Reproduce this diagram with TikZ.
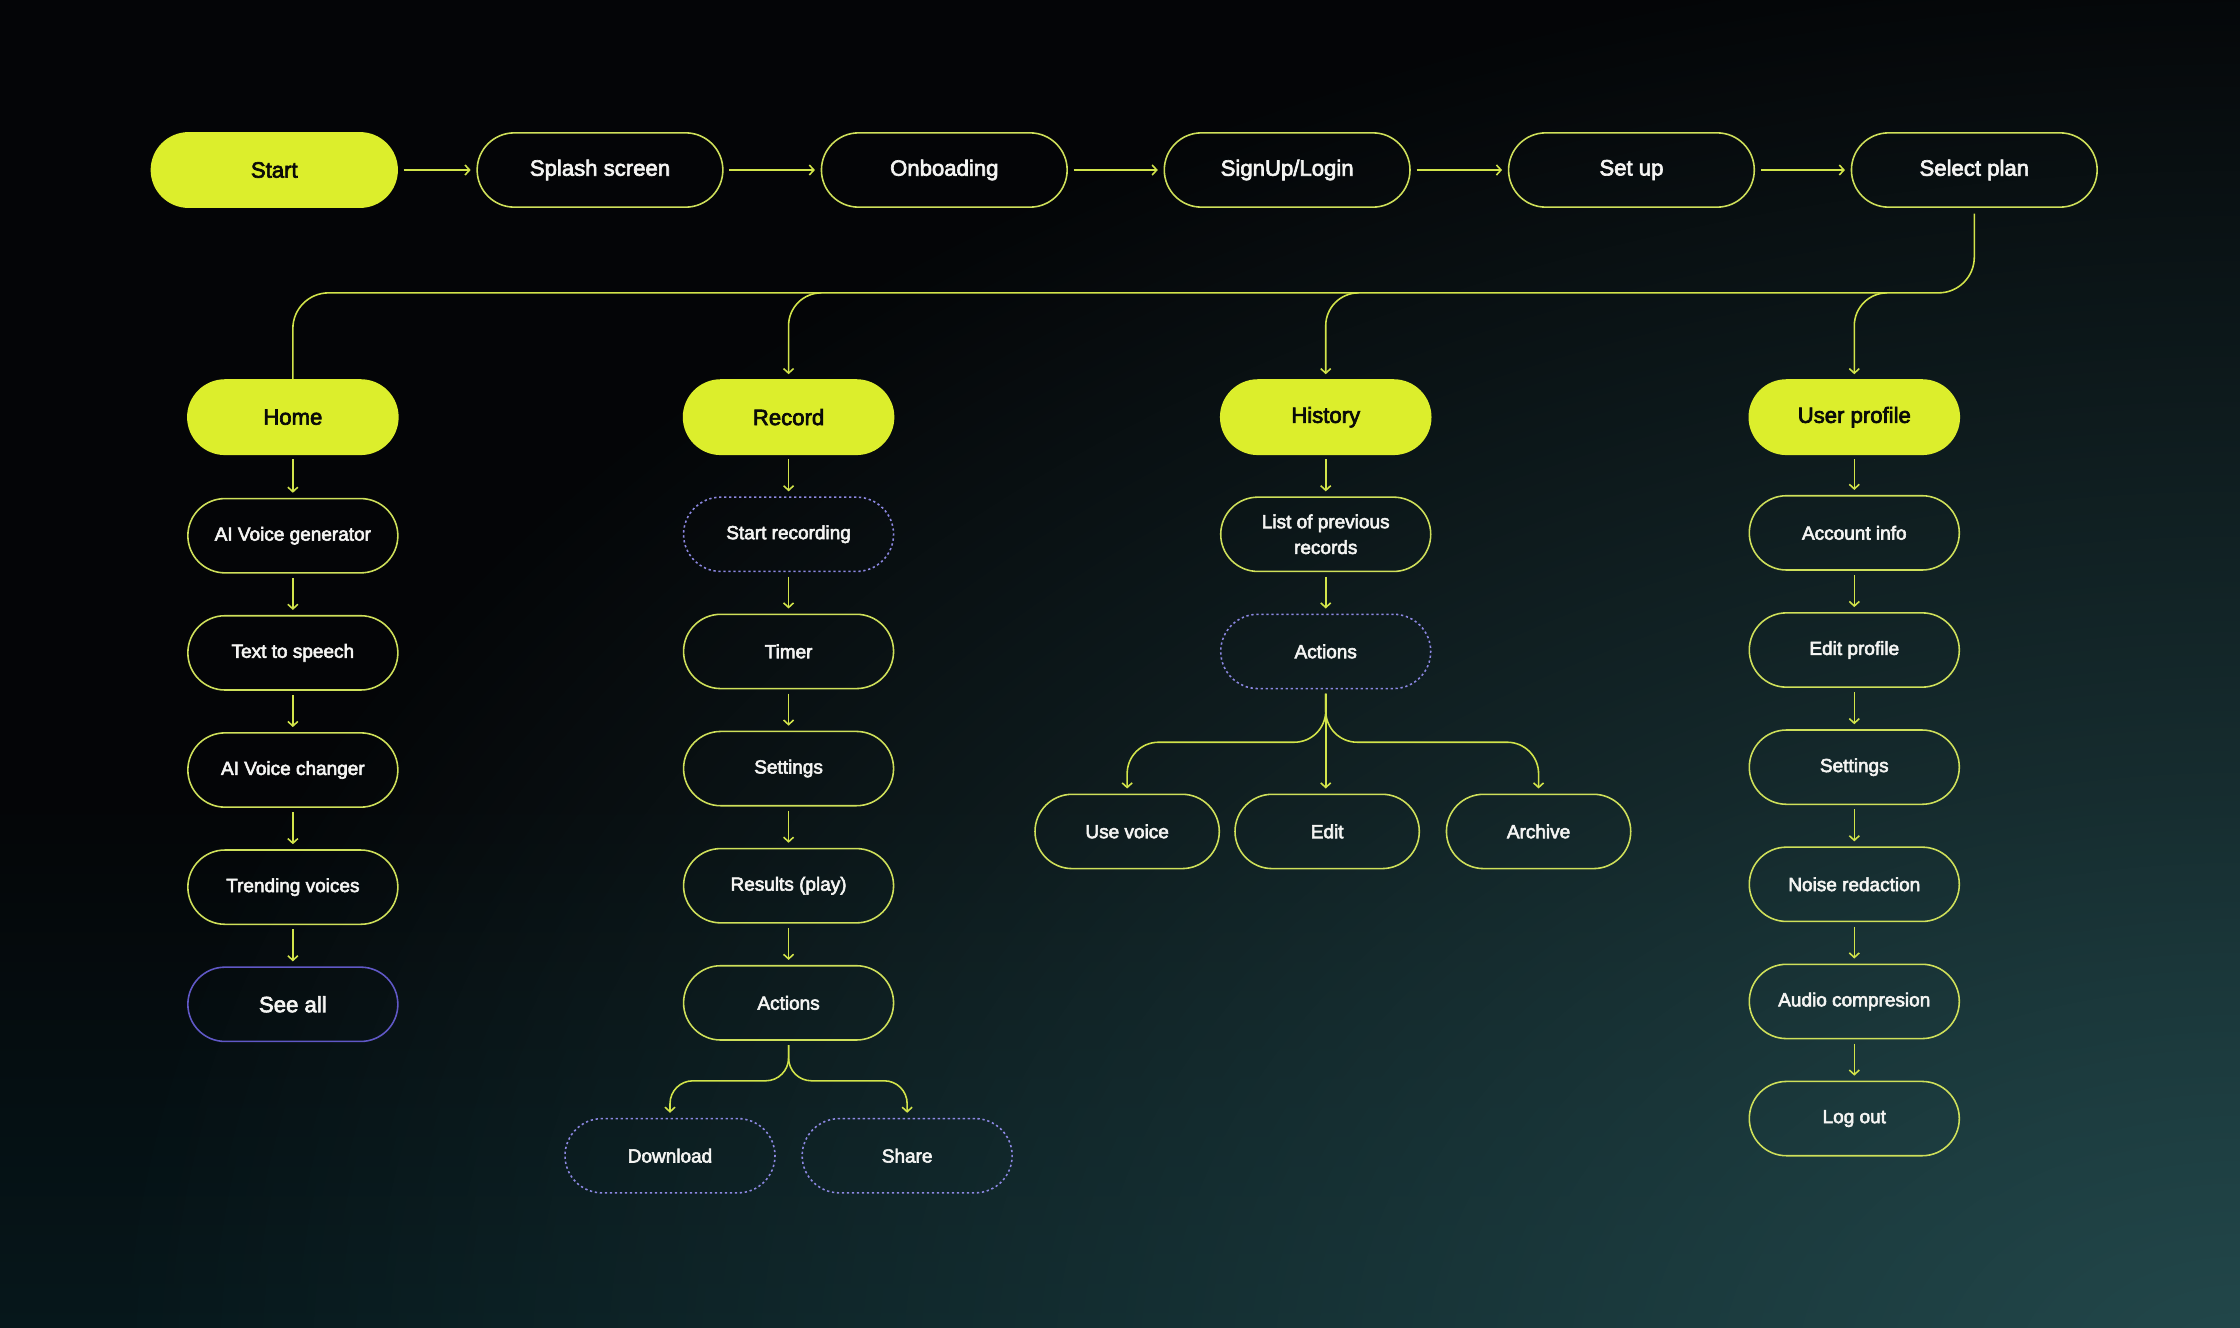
\documentclass[tikz,border=0pt]{standalone}
\usepackage{fontspec}
\setmainfont{Liberation Sans}
\newfontfamily\medf{Liberation Sans}[FakeBold=3]
\usetikzlibrary{arrows.meta,fadings,calc}
\definecolor{bgA}{HTML}{040507}
\definecolor{bgB}{HTML}{06171B}
\definecolor{glow}{HTML}{23484B}
\definecolor{lime}{HTML}{DCEE2C}
\definecolor{outC}{HTML}{CFE05A}
\definecolor{lineC}{HTML}{D2E44A}
\definecolor{purp}{HTML}{8C88E2}
\definecolor{purpS}{HTML}{6058C6}
\definecolor{txtW}{HTML}{F4F4F2}
\definecolor{txtK}{HTML}{0A0B08}
\tikzfading[name=glowfade, inner color=transparent!0, outer color=transparent!100]
\tikzset{
  base/.style={rectangle, rounded corners=26pt, minimum height=52pt, inner sep=0pt, align=center, line width=1.1pt},
  topn/.style={base, minimum width=172pt, draw=outC, text=txtW, font=\medf\fontsize{15.5}{18}\selectfont},
  topfill/.style={topn, fill=lime, draw=lime, text=txtK},
  head/.style={base, minimum width=147pt, fill=lime, draw=lime, text=txtK, font=\medf\fontsize{15.5}{18}\selectfont},
  item/.style={base, minimum width=147pt, draw=outC, text=txtW, font=\medf\fontsize{13.3}{18}\selectfont},
  smallitem/.style={item, minimum width=129pt},
  dotitem/.style={item, draw=purp, dash pattern=on 1.6pt off 1.9pt},
  seeall/.style={item, draw=purpS, font=\medf\fontsize{15.5}{18}\selectfont},
  conn/.style={draw=lineC, line width=1.1pt},
  arr/.style={conn, -{Straight Barb[length=3.2pt,width=7pt]}},
  harr/.style={arr, shorten <=4pt, shorten >=4pt},
  varr/.style={arr, shorten <=3pt, shorten >=3.5pt},
}
\begin{document}
\begin{tikzpicture}[x=1pt,y=-1pt]
% background
\useasboundingbox (0,0) rectangle (1568,929);
\fill[bgA] (0,0) rectangle (1568,929);
\shade[top color=bgA, bottom color=bgB] (0,560) rectangle (1568,929);
\begin{scope}
\clip (0,0) rectangle (1568,929);
\fill[glow, path fading=glowfade] (1568,960) ellipse (1500 and 1000);
\end{scope}

% top row
\node[topfill] (start) at (192,119) {Start};
\node[topn] (splash) at (420,119) {Splash screen};
\node[topn] (onb) at (661,119) {Onboading};
\node[topn] (sign) at (901,119) {SignUp/Login};
\node[topn] (setup) at (1142,119) {Set up};
\node[topn] (sel) at (1382,119) {Select plan};
\draw[harr] (start) -- (splash);
\draw[harr] (splash) -- (onb);
\draw[harr] (onb) -- (sign);
\draw[harr] (sign) -- (setup);
\draw[harr] (setup) -- (sel);

% headers
\node[head] (home) at (205,292) {Home};
\node[head] (rec) at (552,292) {Record};
\node[head] (hist) at (928,292) {History};
\node[head] (user) at (1298,292) {User profile};

% bus
\coordinate (bus) at (0,205);
\coordinate (brec) at (575,205);
\coordinate (bhist) at (951,205);
\coordinate (buser) at (1321,205);
\draw[conn, rounded corners=25pt, shorten <=4pt] (sel.south) -- (sel.south |- bus) -| (home.north);
\draw[arr, rounded corners=23pt, shorten >=3.5pt] (brec) -| (rec.north);
\draw[arr, rounded corners=23pt, shorten >=3.5pt] (bhist) -| (hist.north);
\draw[arr, rounded corners=23pt, shorten >=3.5pt] (buser) -| (user.north);

% Home column
\node[item] (h1) at (205,375) {AI Voice generator};
\node[item] (h2) at (205,457) {Text to speech};
\node[item] (h3) at (205,539) {AI Voice changer};
\node[item] (h4) at (205,621) {Trending voices};
\node[seeall] (h5) at (205,703) {See all};
\draw[varr] (home) -- (h1);
\draw[varr] (h1) -- (h2);
\draw[varr] (h2) -- (h3);
\draw[varr] (h3) -- (h4);
\draw[varr] (h4) -- (h5);

% Record column
\node[dotitem] (r1) at (552,374) {Start recording};
\node[item] (r2) at (552,456) {Timer};
\node[item] (r3) at (552,538) {Settings};
\node[item] (r4) at (552,620) {Results (play)};
\node[item] (r5) at (552,702) {Actions};
\node[dotitem] (dl) at (469,809) {Download};
\node[dotitem] (sh) at (635,809) {Share};
\draw[varr] (rec) -- (r1);
\draw[varr] (r1) -- (r2);
\draw[varr] (r2) -- (r3);
\draw[varr] (r3) -- (r4);
\draw[varr] (r4) -- (r5);
\draw[varr, rounded corners=16pt] (r5.south) -- ++(0,28) -| (dl.north);
\draw[varr, rounded corners=16pt] (r5.south) -- ++(0,28) -| (sh.north);

% History column
\node[item] (s1) at (928,374) {List of previous\\records};
\node[dotitem] (s2) at (928,456) {Actions};
\node[smallitem] (uv) at (789,582) {Use voice};
\node[smallitem] (ed) at (929,582) {Edit};
\node[smallitem] (ar) at (1077,582) {Archive};
\draw[varr] (hist) -- (s1);
\draw[varr] (s1) -- (s2);
\draw[varr, rounded corners=22pt] (s2.south) -- ++(0,37) -| (uv.north);
\draw[varr] (s2.south) -- (s2.south |- ed.north);
\draw[varr, rounded corners=22pt] (s2.south) -- ++(0,37) -| (ar.north);

% User profile column
\node[item] (u1) at (1298,373) {Account info};
\node[item] (u2) at (1298,455) {Edit profile};
\node[item] (u3) at (1298,537) {Settings};
\node[item] (u4) at (1298,619) {Noise redaction};
\node[item] (u5) at (1298,701) {Audio compresion};
\node[item] (u6) at (1298,783) {Log out};
\draw[varr] (user) -- (u1);
\draw[varr] (u1) -- (u2);
\draw[varr] (u2) -- (u3);
\draw[varr] (u3) -- (u4);
\draw[varr] (u4) -- (u5);
\draw[varr] (u5) -- (u6);
\end{tikzpicture}
\end{document}
